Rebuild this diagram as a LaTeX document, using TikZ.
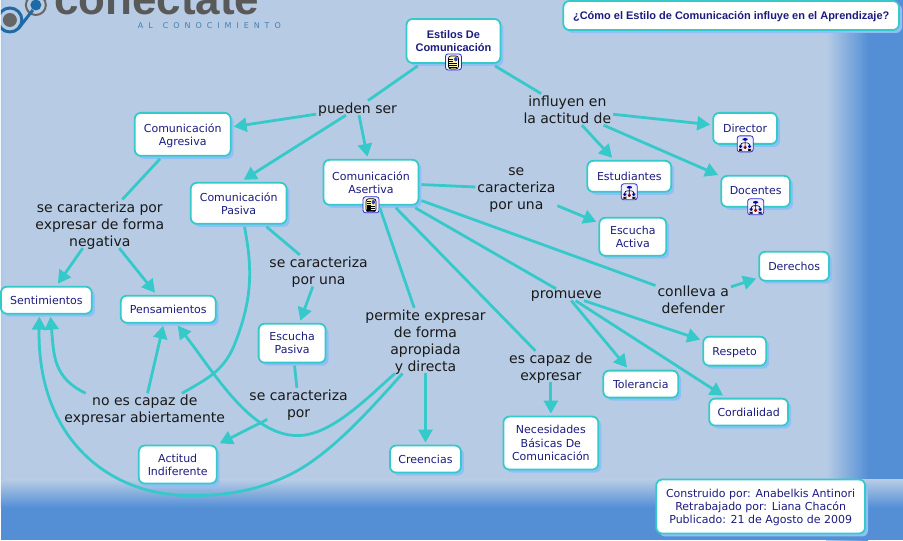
\documentclass[tikz,border=0pt]{standalone}
\usepackage{xcolor}
\usepackage{fontspec}
\setmainfont{DejaVu Sans}
\newfontfamily\boldfont{Liberation Sans}[BoldFont={Liberation Sans Bold}]
\newfontfamily\logofont[LetterSpace=62]{DejaVu Sans}
\newfontfamily\brandfont{Liberation Sans}
\usetikzlibrary{arrows.meta,positioning,shadows}

\definecolor{fondo}{HTML}{B7CCE4}
\definecolor{azul}{HTML}{548FD6}
\definecolor{sombra}{HTML}{8FC0F5}
\definecolor{turquesa}{HTML}{36C9C9}
\definecolor{tinta}{HTML}{1C1C80}
\definecolor{logoazul}{HTML}{1F6AA5}

% small icons under some of the boxes
\newcommand{\notadraw}{
  \fill[yellow!35] (-5,-6) rectangle (5,7);
  \draw[black,line width=.7pt] (-5,-6) rectangle (5,7);
  \fill[blue!55!gray] (0.5,-5) rectangle (4.2,-0.5);
  \foreach \y in {-3,-1,1,3,5} \draw[black,line width=.7pt] (-4,\y) -- (0,\y);
  \foreach \y in {1.5,3.5,5.5} \draw[black,line width=.7pt] (-4,\y) -- (4,\y);
}
\newcommand{\mapadraw}{
  \fill[blue!70!black] (-2.5,-6) rectangle (2.5,-3);
  \draw[black,line width=.6pt] (0,-3) -- (0,3) (-4.5,1) -- (-4.5,-1) -- (4.5,-1) -- (4.5,1);
  \fill[blue!60!black] (-6,1) rectangle (-3,4);
  \fill[red!55!black] (-1.5,2) rectangle (1.5,5);
  \fill[blue!60!black] (3,1) rectangle (6,4);
  \fill[black] (-6,5) rectangle (-3,7) (3,5) rectangle (6,7);
}

\begin{document}
\begin{tikzpicture}[
  x=1pt, y=-1pt, on grid,
  box/.style={draw=turquesa, line width=1.8pt, fill=white, rounded corners=6pt, align=center, outer sep=3pt, inner sep=0pt,
    text=tinta, text depth=-1pt, font=\fontsize{11}{13.3}\selectfont,
    general shadow={shadow xshift=3pt, shadow yshift=-3pt, fill=sombra}},
  sz/.style 2 args={minimum width=#1pt, minimum height=#2pt},
  phrase/.style={align=center, inner sep=1pt, outer sep=1pt, text=black!90, text depth=-1pt, font=\fontsize{14}{17}\selectfont},
  boldtxt/.style={font=\boldfont\bfseries\fontsize{11}{13.3}\selectfont},
  arr/.style={-{Triangle[length=13pt,width=14pt]}, turquesa, line width=2.8pt},
  lin/.style={turquesa, line width=2.8pt},
  icono/.style={draw=blue!65!gray, line width=.8pt, fill=blue!6, rounded corners=2.5pt, minimum size=16pt, inner sep=0pt},
  notaicon/.style={icono, path picture={\begin{scope}[shift={(path picture bounding box.center)}]\notadraw\end{scope}}},
  mapaicon/.style={icono, path picture={\begin{scope}[shift={(path picture bounding box.center)}]\mapadraw\end{scope}}}
]
  % background
  \fill[fondo] (0,0) rectangle (903,541);
  \shade[left color=fondo, right color=azul] (826,0) rectangle (868,541);
  \fill[azul] (868,0) rectangle (903,541);
  \shade[top color=fondo, bottom color=azul] (0,480) rectangle (903,508);
  \fill[azul] (0,508) rectangle (903,541);
  \shade[left color=fondo!70!sombra, right color=fondo] (0,0) rectangle (5,480);

  % logo
  \begin{scope}
    \clip (0,0) rectangle (903,541);
    \node[anchor=base west, inner sep=0pt, text=black!65, font=\brandfont\bfseries\fontsize{44}{44}\selectfont] (marca) at (53,15) {conectate};
    \node[anchor=base west, inner sep=0pt, text=logoazul!85!white, font=\logofont\fontsize{8}{8}\selectfont] (lema) at (137,29) {AL\hspace{10pt}CONOCIMIENTO};
    \draw[black!60, line width=2pt] (35,5) circle (10);
    \draw[logoazul, line width=3pt] (9,20) circle (12);
    \fill[black!60] (9,20) circle (7);
    \draw[logoazul, line width=3pt] (18,28) -- (32,10);
    \fill[logoazul] (35,5) circle (5.5);
  \end{scope}

  \node[box, boldtxt, sz={94}{44}] (estilos) at (453,41) {Estilos De\\Comunicación};
  \node[box, boldtxt, sz={336}{29}, above right=25.5pt and 278pt of estilos] (pregunta) {¿Cómo el Estilo de Comunicación influye en el Aprendizaje?};
  \node[phrase, below left=67pt and 96pt of estilos] (pueden) {pueden ser};
  \node[phrase, below right=68.5pt and 114pt of estilos] (influyen) {influyen en\\la actitud de};

  \node[box, sz={96}{43}, below left=26.5pt and 175pt of pueden] (agresiva) {Comunicación\\Agresiva};
  \node[box, sz={96}{41}, below left=95.5pt and 119pt of pueden] (pasiva) {Comunicación\\Pasiva};
  \node[box, sz={95}{45}, below right=74.5pt and 13.5pt of pueden] (asertiva) {Comunicación\\Asertiva};

  \node[box, sz={84}{31}, text depth=1pt, below right=67pt and 62pt of influyen] (estudiantes) {Estudiantes};
  \node[box, sz={64}{31}, text depth=1pt, below right=19pt and 178pt of influyen] (director) {Director};
  \node[box, sz={69}{31}, text depth=1pt, below right=82pt and 188.5pt of influyen] (docentes) {Docentes};

  \node[phrase, below right=6.5pt and 145.5pt of asertiva] (seuna) {se\\caracteriza\\por una};
  \node[box, sz={67}{38}, below right=48pt and 116.5pt of seuna] (activa) {Escucha\\Activa};
  \node[phrase, below right=117pt and 322.5pt of asertiva] (conlleva) {conlleva a\\defender};
  \node[box, sz={70}{29}, above right=33pt and 101pt of conlleva] (derechos) {Derechos};
  \node[phrase, below right=112.5pt and 195.5pt of asertiva] (promueve) {promueve};
  \node[box, sz={63}{29}, below right=56.5pt and 168.5pt of promueve] (respeto) {Respeto};
  \node[box, sz={75}{27}, below right=89.5pt and 74.5pt of promueve] (tolerancia) {Tolerancia};
  \node[box, sz={79}{27}, below right=117.5pt and 182.5pt of promueve] (cordialidad) {Cordialidad};
  \node[phrase, below right=184.5pt and 180pt of asertiva] (capaz) {es capaz de\\expresar};
  \node[box, sz={95}{53}, below=76.5pt of capaz] (necesidades) {Necesidades\\Básicas De\\Comunicación};
  \node[phrase, below right=158.5pt and 54.5pt of asertiva] (permite) {permite expresar\\de forma\\apropiada\\y directa};
  \node[box, sz={71}{27}, below=118.5pt of permite] (creencias) {Creencias};

  \node[phrase, below right=67.5pt and 80pt of pasiva] (sepor) {se caracteriza\\por una};
  \node[box, sz={67}{39}, below left=72.5pt and 26.5pt of sepor] (escpasiva) {Escucha\\Pasiva};
  \node[phrase, below right=60.5pt and 6.5pt of escpasiva] (secar) {se caracteriza\\por};
  \node[box, sz={78}{38}, below left=61pt and 121pt of secar] (actitud) {Actitud\\Indiferente};

  \node[phrase, below left=89.5pt and 83pt of agresiva] (expresa) {se caracteriza por\\expresar de forma\\negativa};
  \node[box, sz={91}{27}, below left=76.5pt and 53.5pt of expresa] (sentimientos) {Sentimientos};
  \node[box, sz={95}{27}, below right=85.5pt and 68.5pt of expresa] (pensamientos) {Pensamientos};
  \node[phrase, below left=206pt and 94pt of pasiva] (nocapaz) {no es capaz de\\expresar abiertamente};

  \node[box, sz={209}{54}, below right=63.5pt and 210pt of necesidades] (credito) {Construido por: Anabelkis Antinori\\Retrabajado por: Liana Chacón\\Publicado: 21 de Agosto de 2009};

  % icons
  \node[notaicon, below=21pt of estilos] (iconestilos) {};
  \node[notaicon, below=22.5pt of asertiva] (iconasertiva) {};
  \node[mapaicon, below=15.5pt of director] (icondirector) {};
  \node[mapaicon, below=15.5pt of estudiantes] (iconestudiantes) {};
  \node[mapaicon, below=15.5pt of docentes] (icondocentes) {};

  % connectors
  \draw[lin] (estilos) -- (pueden);
  \draw[lin] (estilos) -- (influyen);
  \draw[arr] (pueden) -- (agresiva);
  \draw[arr] (pueden) -- (pasiva.78);
  \draw[arr] (pueden) -- (asertiva.98);
  \draw[arr] (influyen) -- (director);
  \draw[arr] (influyen) -- (estudiantes);
  \draw[arr] (influyen) -- (docentes);
  \draw[lin] (asertiva) -- (seuna);
  \draw[arr] (seuna) -- (activa);
  \draw[lin] (asertiva) -- (conlleva);
  \draw[arr] (conlleva) -- (derechos);
  \draw[lin] (asertiva) -- (promueve);
  \draw[arr] (promueve) -- (respeto);
  \draw[arr] (promueve) -- (tolerancia);
  \draw[arr] (promueve) -- (cordialidad);
  \draw[lin] (asertiva) -- (capaz);
  \draw[arr] (capaz) -- (necesidades);
  \draw[lin] (asertiva) -- (permite);
  \draw[arr] (permite) -- (creencias);
  \draw[lin] (pasiva) -- (sepor);
  \draw[arr] (sepor) -- (escpasiva);
  \draw[lin] (escpasiva) -- (secar);
  \draw[arr] (secar) -- (actitud);
  \draw[lin] (agresiva) -- (expresa);
  \draw[arr] (expresa) -- (sentimientos);
  \draw[arr] (expresa) -- (pensamientos);
  \draw[arr] (nocapaz.80) -- (pensamientos.253);
  \draw[lin] (pasiva.284) .. controls (252,270) and (252,300) .. (233,347) .. controls (222,372) and (205,380) .. (nocapaz.23);
  \draw[arr] (nocapaz.165) .. controls (52,378) and (53,355) .. (sentimientos.284);
  \draw[arr] (permite.227) .. controls (365,400) and (330,436) .. (297,436) .. controls (250,436) and (215,375) .. (pensamientos.300);
  \draw[arr] (permite.235) .. controls (365,415) and (325,460) .. (283,478) .. controls (250,493) and (220,496) .. (193,496) .. controls (110,498) and (36,440) .. (sentimientos.247);
\end{tikzpicture}
\end{document}
